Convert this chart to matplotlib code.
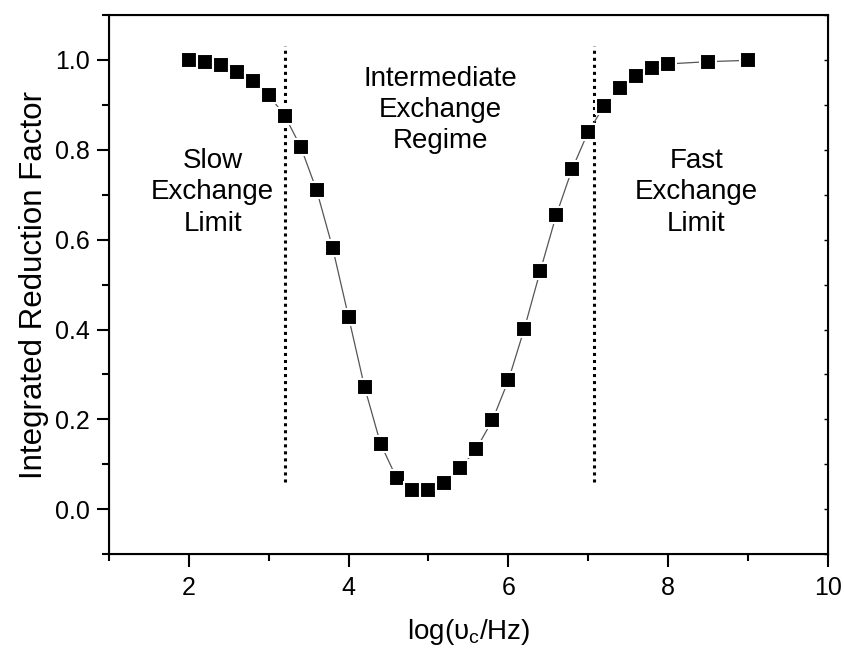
import matplotlib
matplotlib.use("Agg")
import matplotlib.pyplot as plt
from matplotlib.ticker import MultipleLocator

plt.rcParams['font.family'] = ['Liberation Sans', 'DejaVu Sans']
plt.rcParams['mathtext.fontset'] = 'custom'
plt.rcParams['mathtext.rm'] = 'Liberation Sans'
plt.rcParams['mathtext.it'] = 'Liberation Sans:italic'

# log of exchange rate and the reduction factor at each point
log_rate = [2.0, 2.2, 2.4, 2.6, 2.8, 3.0, 3.2, 3.4, 3.6, 3.8, 4.0, 4.2, 4.4, 4.6,
            4.8, 5.0, 5.2, 5.4, 5.6, 5.8, 6.0, 6.2, 6.4, 6.6, 6.8, 7.0, 7.2, 7.4,
            7.6, 7.8, 8.0, 8.5, 9.0]
reduction = [1.000, 0.995, 0.988, 0.974, 0.954, 0.922, 0.876, 0.807, 0.710, 0.582,
             0.428, 0.272, 0.146, 0.070, 0.042, 0.042, 0.059, 0.091, 0.135, 0.198,
             0.287, 0.402, 0.531, 0.655, 0.758, 0.840, 0.898, 0.938, 0.963, 0.981,
             0.991, 0.996, 0.999]

# regime boundaries
boundaries = [3.2, 7.07]
boundary_span = (0.06, 1.03)

fig = plt.figure(figsize=(8.44, 6.49), dpi=100)
ax = fig.add_axes([0.129, 0.146, 0.852, 0.831])

ax.plot(log_rate, reduction, color='#555555', lw=0.9, marker='s', ms=11.5,
        mfc='black', mec='white', mew=1.5, zorder=3)

for xb in boundaries:
    ax.plot([xb, xb], boundary_span, color='black', lw=2.2, ls=(0, (1, 1.3)), zorder=2)

txt = dict(ha='center', va='center', fontsize=20, linespacing=1.26)
ax.text(2.3, 0.705, "Slow\nExchange\nLimit", **txt)
ax.text(8.35, 0.705, "Fast\nExchange\nLimit", **txt)
ax.text(5.15, 0.888, "Intermediate\nExchange\nRegime", **txt)

ax.set_xlim(1, 10)
ax.set_ylim(-0.1, 1.1)
ax.xaxis.set_major_locator(MultipleLocator(2))
ax.xaxis.set_minor_locator(MultipleLocator(1))
ax.yaxis.set_major_locator(MultipleLocator(0.2))
ax.yaxis.set_minor_locator(MultipleLocator(0.1))
ax.yaxis.set_major_formatter(plt.FormatStrFormatter('%.1f'))

ax.tick_params(which='major', direction='out', length=9, width=1.5, labelsize=18,
               top=False, right=False)
ax.tick_params(which='minor', direction='out', length=5, width=1.5,
               top=False, right=False)
ax.tick_params(axis='x', pad=7)
ax.tick_params(axis='y', pad=5)
for s in ax.spines.values():
    s.set_linewidth(1.5)

# short inward ticks on the right edge
ax2 = ax.twinx()
ax2.set_ylim(ax.get_ylim())
ax2.yaxis.set_major_locator(MultipleLocator(0.1))
ax2.tick_params(direction='in', length=3, width=1, labelright=False)

ax.set_ylabel("Integrated Reduction Factor", fontsize=22.5, labelpad=4)
ax.set_xlabel(r"log($\mathrm{\upsilon_c}$/Hz)", fontsize=20, labelpad=12)

fig.savefig("out.png", dpi=100)
